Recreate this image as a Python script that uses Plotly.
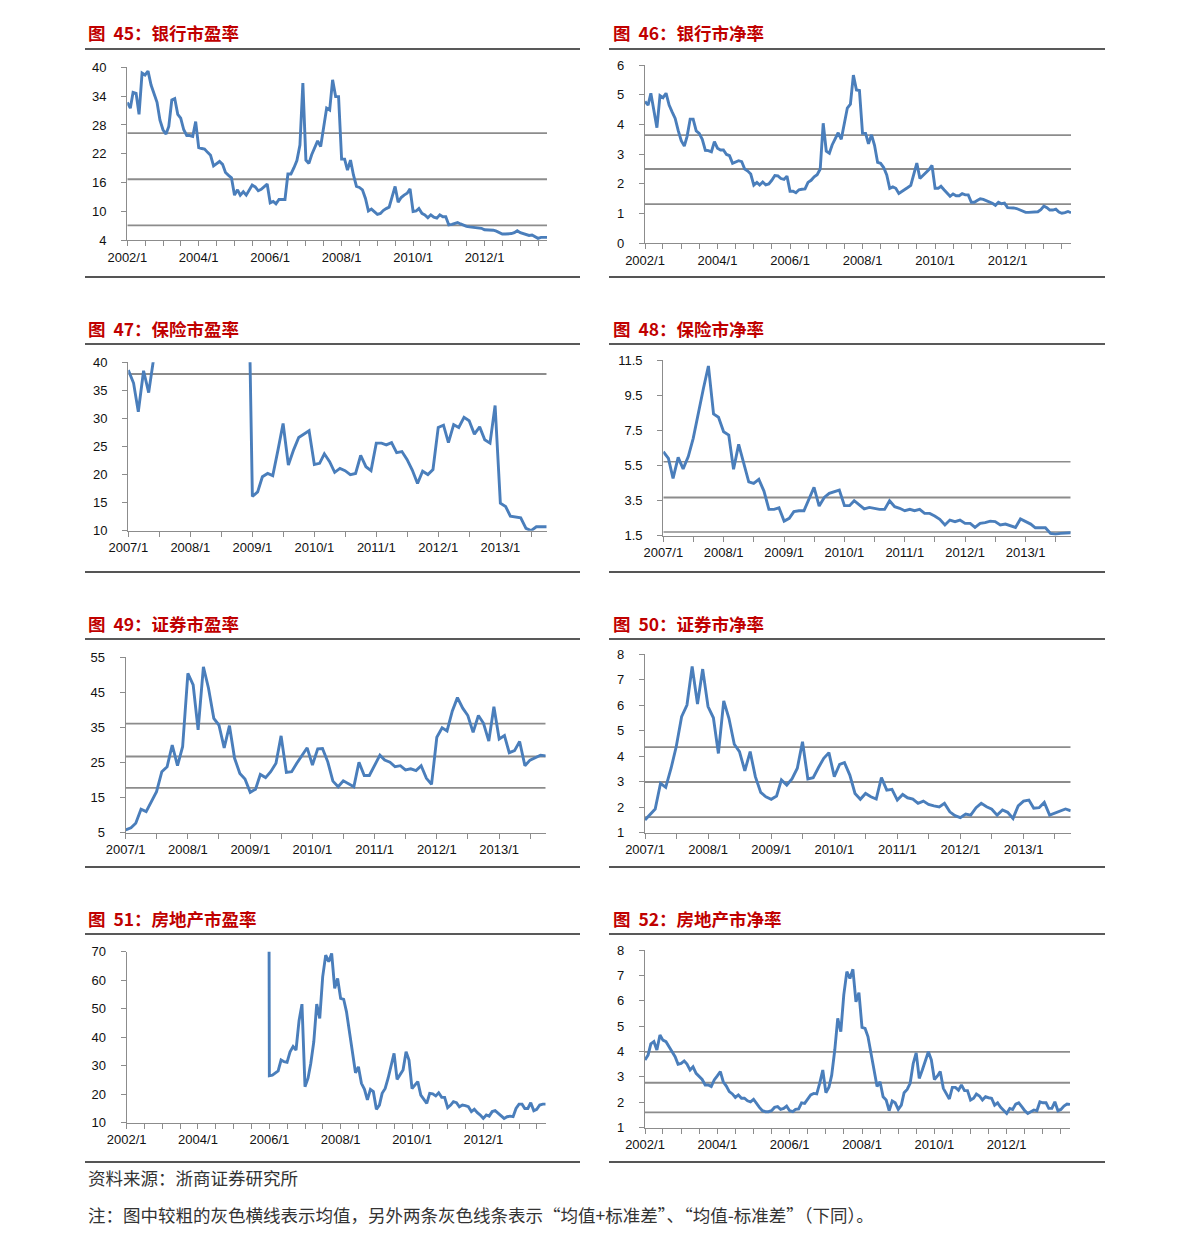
import pandas as pd
import plotly.graph_objects as go

W, H = 1191, 1247

# ---------------- data (monthly) ----------------
# 银行 PE, 2002/1 - 2013/10
bank_pe = [
    32.7, 31.5, 34.8, 34.6, 30.2, 38.8, 38.4, 39.2, 36.3, 34.6,
    32.7, 29.0, 27.0, 26.1, 27.7, 33.2, 33.5, 30.2, 29.4, 27.0,
    25.8, 25.8, 25.6, 28.7, 23.3, 23.1, 23.0, 22.3, 21.7, 19.5,
    20.0, 20.4, 19.8, 18.1, 17.5, 17.0, 13.4, 14.5, 13.4, 14.1,
    13.4, 14.5, 15.5, 15.1, 14.3, 14.6, 15.2, 15.7, 11.8, 12.1,
    11.6, 12.5, 12.5, 12.5, 17.8, 17.8, 19.1, 20.6, 23.8, 36.7,
    20.7, 20.0, 21.8, 23.2, 24.7, 23.5, 27.0, 31.5, 31.1, 37.4,
    33.9, 33.9, 20.9, 20.9, 18.6, 20.7, 17.6, 15.2, 15.0, 14.5,
    12.7, 10.1, 10.5, 10.0, 9.4, 9.6, 10.2, 10.6, 10.9, 13.1,
    15.2, 11.9, 12.9, 13.4, 13.8, 14.7, 10.0, 10.1, 10.6, 9.6,
    9.3, 8.7, 9.3, 8.8, 8.6, 9.3, 8.9, 8.9, 7.2, 7.3,
    7.5, 7.7, 7.4, 7.1, 6.9, 6.8, 6.7, 6.7, 6.6, 6.5,
    6.2, 6.2, 6.2, 6.1, 5.9, 5.6, 5.3, 5.3, 5.3, 5.4,
    5.6, 6.0, 5.6, 5.4, 5.2, 5.0, 5.1, 4.8, 4.4, 4.6,
    4.6, 4.6,
]
bank_pe_start = "2002-01-01"
bank_pe_lines = [26.3, 16.7, 7.1]

# 银行 PB, 2002/1 - 2013/10
bank_pb = [
    4.77, 4.65, 5.05, 4.45, 3.89, 4.97, 4.90, 5.05, 4.65, 4.42,
    4.20, 3.80, 3.45, 3.27, 3.60, 4.18, 4.18, 3.78, 3.70, 3.50,
    3.13, 3.12, 3.08, 3.42, 3.20, 3.14, 3.14, 2.99, 2.95, 2.69,
    2.74, 2.78, 2.75, 2.50, 2.43, 2.33, 1.96, 2.05, 1.96, 2.06,
    1.97, 2.00, 2.12, 2.28, 2.27, 2.18, 2.15, 2.26, 1.75, 1.75,
    1.70, 1.80, 1.82, 1.83, 2.05, 2.12, 2.24, 2.31, 2.50, 4.04,
    3.10, 3.03, 3.31, 3.52, 3.72, 3.50, 4.00, 4.55, 4.68, 5.66,
    5.16, 5.14, 3.70, 3.70, 3.35, 3.65, 3.30, 2.72, 2.69, 2.55,
    2.30, 1.85, 1.90, 1.85, 1.68, 1.74, 1.82, 1.88, 1.95, 2.35,
    2.70, 2.18, 2.28, 2.40, 2.48, 2.62, 1.85, 1.85, 1.92, 1.80,
    1.68, 1.58, 1.66, 1.60, 1.60, 1.67, 1.63, 1.63, 1.38, 1.38,
    1.44, 1.50, 1.48, 1.44, 1.38, 1.35, 1.28, 1.38, 1.33, 1.35,
    1.20, 1.20, 1.19, 1.17, 1.12, 1.07, 1.04, 1.04, 1.04, 1.04,
    1.06, 1.13, 1.25, 1.20, 1.12, 1.12, 1.15, 1.05, 1.01, 1.03,
    1.07, 1.03,
]
bank_pb_start = "2002-01-01"
bank_pb_lines = [3.64, 2.50, 1.32]

# 保险 PE, 2007/1 - 2013/10 (mid-2007 to 2008 above the axis top, unreadable)
ins_pe = [
    38.6, 36.3, 31.2, 38.5, 34.6, 41.0,
    None, None, None, None, None, None, None, None, None,
    None, None, None, None, None, None, None, None,
    70.0,
    16.1, 16.9, 19.6, 20.2, 19.8, 24.4, 29.1, 21.7, 24.4, 26.6,
    27.2, 27.8, 21.8, 22.0, 23.7, 22.3, 20.4, 21.1, 20.7, 20.0,
    20.2, 23.4, 21.4, 20.7, 25.6, 25.6, 25.3, 25.7, 23.9, 24.1,
    22.7, 20.8, 18.4, 20.6, 20.0, 20.9, 28.4, 28.8, 25.7, 28.9,
    28.4, 30.2, 29.6, 27.2, 28.5, 26.2, 25.6, 32.3, 14.9, 14.3,
    12.6, 12.4, 12.3, 10.4, 10.0, 10.7, 10.7, 10.7,
]
ins_pe_start = "2007-01-01"
ins_pe_lines = [37.9]

# 保险 PB, 2007/1 - 2013/10
ins_pb = [
    6.28, 5.90, 4.76, 5.96, 5.30, 6.00, 7.04, 8.56, 9.89, 11.16,
    8.43, 8.24, 7.42, 7.23, 5.28, 6.70, 5.58, 4.57, 4.48, 4.71,
    4.04, 3.00, 3.00, 3.09, 2.33, 2.49, 2.87, 2.92, 2.92, 3.57,
    4.25, 3.19, 3.68, 3.91, 4.00, 4.10, 3.21, 3.21, 3.49, 3.25,
    3.02, 3.11, 3.06, 3.00, 3.00, 3.49, 3.15, 3.06, 2.92, 3.00,
    2.92, 3.00, 2.77, 2.77, 2.62, 2.43, 2.11, 2.39, 2.30, 2.39,
    2.20, 2.20, 1.97, 2.20, 2.24, 2.33, 2.30, 2.11, 2.16, 2.05,
    1.97, 2.45, 2.30, 2.16, 1.95, 1.95, 1.95, 1.63, 1.59, 1.63,
    1.67, 1.67,
]
ins_pb_start = "2007-01-01"
ins_pb_lines = [5.71, 3.68, 1.71]

# 证券 PE, 2007/1 - 2013/10
sec_pe = [
    5.8, 6.4, 7.7, 11.7, 11.0, 13.8, 16.7, 22.4, 23.8, 30.0,
    24.1, 29.5, 50.4, 47.1, 34.3, 52.3, 46.2, 37.6, 35.7, 29.2,
    35.5, 26.2, 21.9, 20.3, 16.5, 17.4, 21.6, 20.7, 22.4, 24.8,
    32.6, 22.2, 22.4, 24.8, 27.1, 29.2, 24.3, 28.9, 29.0, 25.2,
    19.7, 18.1, 19.8, 18.9, 18.1, 25.1, 21.3, 21.3, 24.3, 27.1,
    25.7, 25.1, 23.8, 24.1, 22.9, 23.2, 22.7, 24.1, 20.5, 18.8,
    32.2, 34.9, 34.0, 39.7, 43.5, 40.5, 38.4, 33.6, 38.4, 36.2,
    31.1, 40.9, 31.7, 32.7, 27.8, 28.4, 31.0, 24.1, 25.7, 26.4,
    27.1, 26.9,
]
sec_pe_start = "2007-01-01"
sec_pe_lines = [36.1, 26.7, 17.8]

# 证券 PB, 2007/1 - 2013/10
sec_pb = [
    1.50, 1.72, 1.93, 2.94, 2.78, 3.53, 4.38, 5.55, 6.01, 7.52,
    6.05, 7.42, 5.95, 5.51, 4.11, 6.17, 5.49, 4.47, 4.18, 3.43,
    4.18, 3.20, 2.58, 2.41, 2.31, 2.44, 3.07, 2.87, 3.11, 3.53,
    4.57, 3.11, 3.16, 3.55, 3.92, 4.14, 3.20, 3.68, 3.75, 3.26,
    2.54, 2.31, 2.54, 2.41, 2.32, 3.16, 2.67, 2.70, 2.28, 2.50,
    2.37, 2.32, 2.15, 2.24, 2.11, 2.05, 2.01, 2.15, 1.82, 1.67,
    1.59, 1.73, 1.69, 1.98, 2.15, 2.02, 1.92, 1.69, 1.89, 1.80,
    1.56, 2.05, 2.24, 2.28, 1.96, 1.98, 2.19, 1.69, 1.76, 1.86,
    1.93, 1.86,
]
sec_pb_start = "2007-01-01"
sec_pb_lines = [4.36, 2.99, 1.61]

# 房地产 PE, 2005/12 - 2013/10 (first value far above the axis top)
re_pe = [
    500.0,
    26.5, 26.7, 27.5, 28.2, 32.0, 31.4, 31.2, 34.9, 36.7, 35.5,
    45.8, 51.6, 22.6, 25.6, 30.8, 38.4, 51.6, 46.6, 61.2, 68.8,
    66.5, 69.4, 57.1, 60.6, 53.6, 53.3, 48.9, 41.9, 36.1, 27.5,
    29.6, 23.8, 21.7, 18.0, 21.7, 20.9, 14.7, 16.2, 20.3, 22.0,
    25.6, 29.6, 34.3, 25.2, 26.7, 28.5, 34.9, 32.0, 22.0, 23.2,
    24.4, 19.7, 18.2, 16.8, 20.3, 20.1, 19.4, 20.5, 18.9, 18.9,
    15.3, 16.2, 17.4, 17.0, 15.6, 16.2, 16.0, 15.6, 13.9, 14.7,
    13.5, 12.7, 11.5, 12.7, 12.3, 13.9, 14.2, 13.3, 12.3, 11.5,
    12.1, 12.3, 12.1, 15.0, 16.5, 16.5, 15.0, 15.0, 17.0, 14.2,
    14.7, 16.2, 16.5, 16.5,
]
re_pe_start = "2005-12-01"
re_pe_lines = []

# 房地产 PB, 2002/1 - 2013/10
re_pb = [
    3.67, 3.86, 4.30, 4.39, 4.06, 4.65, 4.45, 4.39, 4.19, 3.99,
    3.80, 3.50, 3.53, 3.63, 3.51, 3.27, 3.40, 3.14, 3.04, 2.90,
    2.68, 2.68, 2.62, 2.88, 3.04, 3.21, 2.81, 2.64, 2.42, 2.33,
    2.19, 2.29, 2.16, 2.16, 2.06, 2.02, 2.12, 1.93, 1.80, 1.67,
    1.63, 1.63, 1.67, 1.80, 1.83, 1.72, 1.76, 1.85, 1.67, 1.63,
    1.72, 1.74, 1.98, 1.96, 2.12, 2.29, 2.35, 2.33, 2.77, 3.27,
    2.38, 2.59, 3.07, 4.06, 5.31, 4.78, 6.23, 7.15, 6.88, 7.24,
    5.96, 6.32, 4.95, 4.91, 4.59, 3.93, 3.34, 2.62, 2.81, 2.22,
    2.09, 1.67, 2.05, 1.98, 1.72, 1.89, 2.38, 2.51, 2.75, 3.53,
    3.95, 2.94, 3.27, 3.60, 3.99, 3.67, 2.90, 3.04, 3.21, 2.55,
    2.35, 2.13, 2.59, 2.59, 2.48, 2.68, 2.46, 2.46, 2.09, 2.16,
    2.33, 2.25, 2.09, 2.22, 2.18, 2.16, 1.89, 1.98, 1.80, 1.70,
    1.56, 1.76, 1.72, 1.93, 1.98, 1.83, 1.67, 1.56, 1.63, 1.70,
    1.67, 2.02, 1.98, 1.98, 1.76, 1.76, 2.02, 1.67, 1.72, 1.85,
    1.93, 1.92,
]
re_pb_start = "2002-01-01"
re_pb_lines = [3.99, 2.77, 1.60]

titles = [
    "图\u00a0\u00a045：银行市盈率", "图\u00a0\u00a046：银行市净率",
    "图\u00a0\u00a047：保险市盈率", "图\u00a0\u00a048：保险市净率",
    "图\u00a0\u00a049：证券市盈率", "图\u00a0\u00a050：证券市净率",
    "图\u00a0\u00a051：房地产市盈率", "图\u00a0\u00a052：房地产市净率",
]
yticks_45 = [4, 10, 16, 22, 28, 34, 40]
yticks_46 = [0, 1, 2, 3, 4, 5, 6]
yticks_47 = [10, 15, 20, 25, 30, 35, 40]
yticks_48 = [1.5, 3.5, 5.5, 7.5, 9.5, 11.5]
yticks_49 = [5, 15, 25, 35, 45, 55]
yticks_50 = [1, 2, 3, 4, 5, 6, 7, 8]
yticks_51 = [10, 20, 30, 40, 50, 60, 70]
yticks_52 = [1, 2, 3, 4, 5, 6, 7, 8]
source_text = "资料来源：浙商证券研究所"
note_text = "注：图中较粗的灰色横线表示均值，另外两条灰色线条表示“均值+标准差”、“均值-标准差”（下同）。"

# ---------------- styling / layout ----------------
LINE_BLUE = "#4a7ebb"
REF_GRAY = "#8c8c8c"
AXIS_GRAY = "#8c8c8c"
TITLE_RED = "#c00000"
TICK_FONT = dict(family="Liberation Sans, Arial", size=13, color="#111111")

END_DATE = "2013-10-01"

panels = [
    dict(values=bank_pe, start=bank_pe_start, lines=bank_pe_lines, yt=yticks_45,
         box=(127.3, 547.0, 67.3, 240.3), axis_start="2002-01-01", step=2),
    dict(values=bank_pb, start=bank_pb_start, lines=bank_pb_lines, yt=yticks_46,
         box=(645.0, 1071.0, 65.0, 243.3), axis_start="2002-01-01", step=2),
    dict(values=ins_pe, start=ins_pe_start, lines=ins_pe_lines, yt=yticks_47,
         box=(128.3, 546.7, 362.3, 530.7), axis_start="2007-01-01", step=1),
    dict(values=ins_pb, start=ins_pb_start, lines=ins_pb_lines, yt=yticks_48,
         box=(663.3, 1070.7, 360.0, 535.7), axis_start="2007-01-01", step=1),
    dict(values=sec_pe, start=sec_pe_start, lines=sec_pe_lines, yt=yticks_49,
         box=(125.7, 545.7, 657.3, 832.7), axis_start="2007-01-01", step=1),
    dict(values=sec_pb, start=sec_pb_start, lines=sec_pb_lines, yt=yticks_50,
         box=(645.0, 1070.7, 654.3, 832.7), axis_start="2007-01-01", step=1),
    dict(values=re_pe, start=re_pe_start, lines=re_pe_lines, yt=yticks_51,
         box=(126.7, 545.7, 951.7, 1122.7), axis_start="2002-01-01", step=2),
    dict(values=re_pb, start=re_pb_start, lines=re_pb_lines, yt=yticks_52,
         box=(645.0, 1070.0, 950.0, 1127.7), axis_start="2002-01-01", step=2),
]

fig = go.Figure()
layout = dict(
    width=W, height=H, autosize=False,
    margin=dict(l=0, r=0, t=0, b=0, pad=0, autoexpand=False),
    paper_bgcolor="white", plot_bgcolor="white", showlegend=False,
)
shapes = []
annotations = []

for k, p in enumerate(panels, start=1):
    sfx = "" if k == 1 else str(k)
    xa, ya = "x" + sfx, "y" + sfx
    x0, x1, yt, yb = p["box"]
    dates = pd.date_range(p["start"], periods=len(p["values"]), freq="MS").strftime("%Y-%m-%d")
    fig.add_trace(go.Scatter(
        x=list(dates), y=p["values"], mode="lines", xaxis=xa, yaxis=ya,
        line=dict(color=LINE_BLUE, width=2.9), connectgaps=False, hoverinfo="skip",
    ))
    tick_dates = pd.date_range(p["axis_start"], "2013-07-01", freq="6MS")
    y0 = int(p["axis_start"][:4])
    tick_text = [
        f"{d.year}/{d.month}" if (d.month == 1 and (d.year - y0) % p["step"] == 0) else ""
        for d in tick_dates
    ]
    layout["xaxis" + sfx] = dict(
        domain=[x0 / W, x1 / W], anchor=ya, type="date",
        range=[p["axis_start"], END_DATE],
        tickvals=list(tick_dates.strftime("%Y-%m-%d")), ticktext=tick_text,
        showline=True, linecolor=AXIS_GRAY, linewidth=1.3,
        ticks="outside", ticklen=5, tickcolor=AXIS_GRAY, tickwidth=1.2,
        tickfont=TICK_FONT, showgrid=False, zeroline=False, fixedrange=True,
        ticklabelstandoff=0, automargin=False,
    )
    layout["yaxis" + sfx] = dict(
        domain=[1 - yb / H, 1 - yt / H], anchor=xa,
        range=[p["yt"][0], p["yt"][-1]], tickvals=p["yt"],
        ticktext=[str(v) for v in p["yt"]],
        showline=True, linecolor=AXIS_GRAY, linewidth=1.3,
        ticks="outside", ticklen=5, tickcolor=AXIS_GRAY, tickwidth=1.2,
        tickfont=TICK_FONT, showgrid=False, zeroline=False, fixedrange=True,
        ticklabelstandoff=12, automargin=False,
    )
    for j, lvl in enumerate(p["lines"]):
        is_mean = (len(p["lines"]) == 3 and j == 1) or len(p["lines"]) == 1
        shapes.append(dict(
            type="line", xref=xa, yref=ya, x0=p["axis_start"], x1=END_DATE,
            y0=lvl, y1=lvl, layer="below",
            line=dict(color=REF_GRAY, width=2.0 if is_mean else 1.7),
        ))

    # panel title, underline and bottom rule
    left = (k % 2 == 1)
    row = (k - 1) // 2
    ty = 33 + 295 * row
    tx = 86 if left else 611
    annotations.append(dict(
        text="<b>" + titles[k - 1] + "</b>", xref="paper", yref="paper",
        x=tx / W, y=1 - ty / H, xanchor="left", yanchor="middle", showarrow=False,
        font=dict(family="Noto Sans CJK SC", size=17.5, color=TITLE_RED),
    ))
    lx0, lx1 = (85, 580) if left else (609, 1105)
    uy = 49 + 295 * row
    by = 277 + 295 * row
    shapes.append(dict(type="line", xref="paper", yref="paper",
                       x0=lx0 / W, x1=lx1 / W, y0=1 - uy / H, y1=1 - uy / H,
                       line=dict(color="#222222", width=1.3)))
    shapes.append(dict(type="line", xref="paper", yref="paper",
                       x0=lx0 / W, x1=lx1 / W, y0=1 - by / H, y1=1 - by / H,
                       line=dict(color="#555555", width=1.8)))

annotations.append(dict(
    text=source_text, xref="paper", yref="paper", x=86 / W, y=1 - 1177 / H,
    xanchor="left", yanchor="middle", showarrow=False,
    font=dict(family="Noto Sans CJK SC", size=17.5, color="#333333"),
))
annotations.append(dict(
    text=note_text, xref="paper", yref="paper", x=86 / W, y=1 - 1214 / H,
    xanchor="left", yanchor="middle", showarrow=False,
    font=dict(family="Noto Sans CJK SC", size=17.5, color="#333333"),
))

layout["shapes"] = shapes
layout["annotations"] = annotations
fig.update_layout(**layout)
fig.write_html(
    "out.html",
    config={"displayModeBar": False, "responsive": False},
    post_script="document.body.style.margin='0';document.body.style.overflow='hidden';",
)
